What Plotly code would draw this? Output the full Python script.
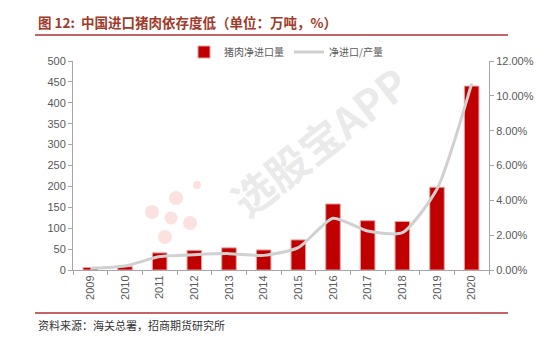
import plotly.graph_objects as go

years = ["2009", "2010", "2011", "2012", "2013", "2014", "2015", "2016", "2017", "2018", "2019", "2020"]
net_import = [6, 8, 41, 47, 53, 48, 72, 158, 118, 116, 198, 440]
ratio = [0.0010, 0.0023, 0.0077, 0.0088, 0.0094, 0.0084, 0.0128, 0.0297, 0.0224, 0.0214, 0.0465, 0.1070]

L, R, T, B = 73, 489, 61, 270
W, H = 554, 338

def px(x):
    return (x - L) / (R - L)

def py(y):
    return (B - y) / (B - T)

fig = go.Figure()
fig.add_trace(go.Bar(
    x=years, y=net_import, name="猪肉净进口量",
    marker=dict(color="#C00000", line=dict(color="#E8A0A0", width=1)),
    width=0.42,
))
fig.add_trace(go.Scatter(
    x=years, y=ratio, name="净进口/产量", yaxis="y2", mode="lines",
    line=dict(color="#D0D0D0", width=3, shape="spline", smoothing=0.6),
))

font_cjk = "Noto Sans CJK SC"
shapes = [
    dict(type="line", xref="paper", yref="paper", x0=px(35), x1=px(508), y0=py(35), y1=py(35),
         line=dict(color="#B03030", width=1.5)),
    dict(type="line", xref="paper", yref="paper", x0=px(35), x1=px(508), y0=py(313), y1=py(313),
         line=dict(color="#B03030", width=1.5)),
]
# watermark dots
for (cx, cy, r) in [(152, 212, 7), (176, 198, 7), (171, 218, 6.5), (190, 223, 7), (165, 237, 7), (197, 185, 4)]:
    shapes.append(dict(type="circle", xref="paper", yref="paper", layer="below",
                       x0=px(cx - r), x1=px(cx + r), y0=py(cy + r), y1=py(cy - r),
                       fillcolor="rgba(245,170,170,0.35)", line=dict(width=0)))

annotations = [
    dict(text="<b>图 12:  中国进口猪肉依存度低（单位：万吨，%）</b>", xref="paper", yref="paper",
         x=px(36), y=py(22), xanchor="left", yanchor="middle", showarrow=False,
         font=dict(family=font_cjk, size=13.5, color="#A03A2A")),
    dict(text="资料来源：海关总署，招商期货研究所", xref="paper", yref="paper",
         x=px(36), y=py(325), xanchor="left", yanchor="middle", showarrow=False,
         font=dict(family=font_cjk, size=11, color="#333333")),
    dict(text="<b>选股宝APP</b>", xref="paper", yref="paper",
         x=px(318), y=py(140), xanchor="center", yanchor="middle", showarrow=False,
         textangle=-38, font=dict(family=font_cjk, size=42, color="rgba(200,200,200,0.4)")),
]

fig.update_layout(
    width=W, height=H,
    margin=dict(l=L, r=W - R, t=T, b=H - B),
    paper_bgcolor="white", plot_bgcolor="white",
    font=dict(family="Liberation Sans, Arial", size=11, color="#595959"),
    showlegend=True,
    legend=dict(orientation="h", x=px(184), y=py(52), xanchor="left", yanchor="middle",
                font=dict(family=font_cjk, size=10, color="#595959"), bgcolor="rgba(0,0,0,0)",
                itemwidth=30, tracegroupgap=0),
    bargap=0.58,
    xaxis=dict(type="category", tickangle=-90, showline=True, linecolor="#A6A6A6", linewidth=1,
               ticks="outside", tickson="boundaries", ticklen=4, tickcolor="#A6A6A6",
               showgrid=False, tickfont=dict(size=11, color="#595959")),
    yaxis=dict(range=[0, 500], dtick=50, showline=True, linecolor="#A6A6A6", linewidth=1,
               ticks="outside", ticklen=4, tickcolor="#A6A6A6", showgrid=False, zeroline=False,
               tickfont=dict(size=11, color="#595959")),
    yaxis2=dict(range=[0, 0.12], dtick=0.02, tickformat=".2%", overlaying="y", side="right",
                showline=True, linecolor="#A6A6A6", linewidth=1, ticks="outside", ticklen=4,
                tickcolor="#A6A6A6", showgrid=False, zeroline=False,
                tickfont=dict(size=11, color="#595959")),
    shapes=shapes, annotations=annotations,
)

fig.write_html("out.html")
